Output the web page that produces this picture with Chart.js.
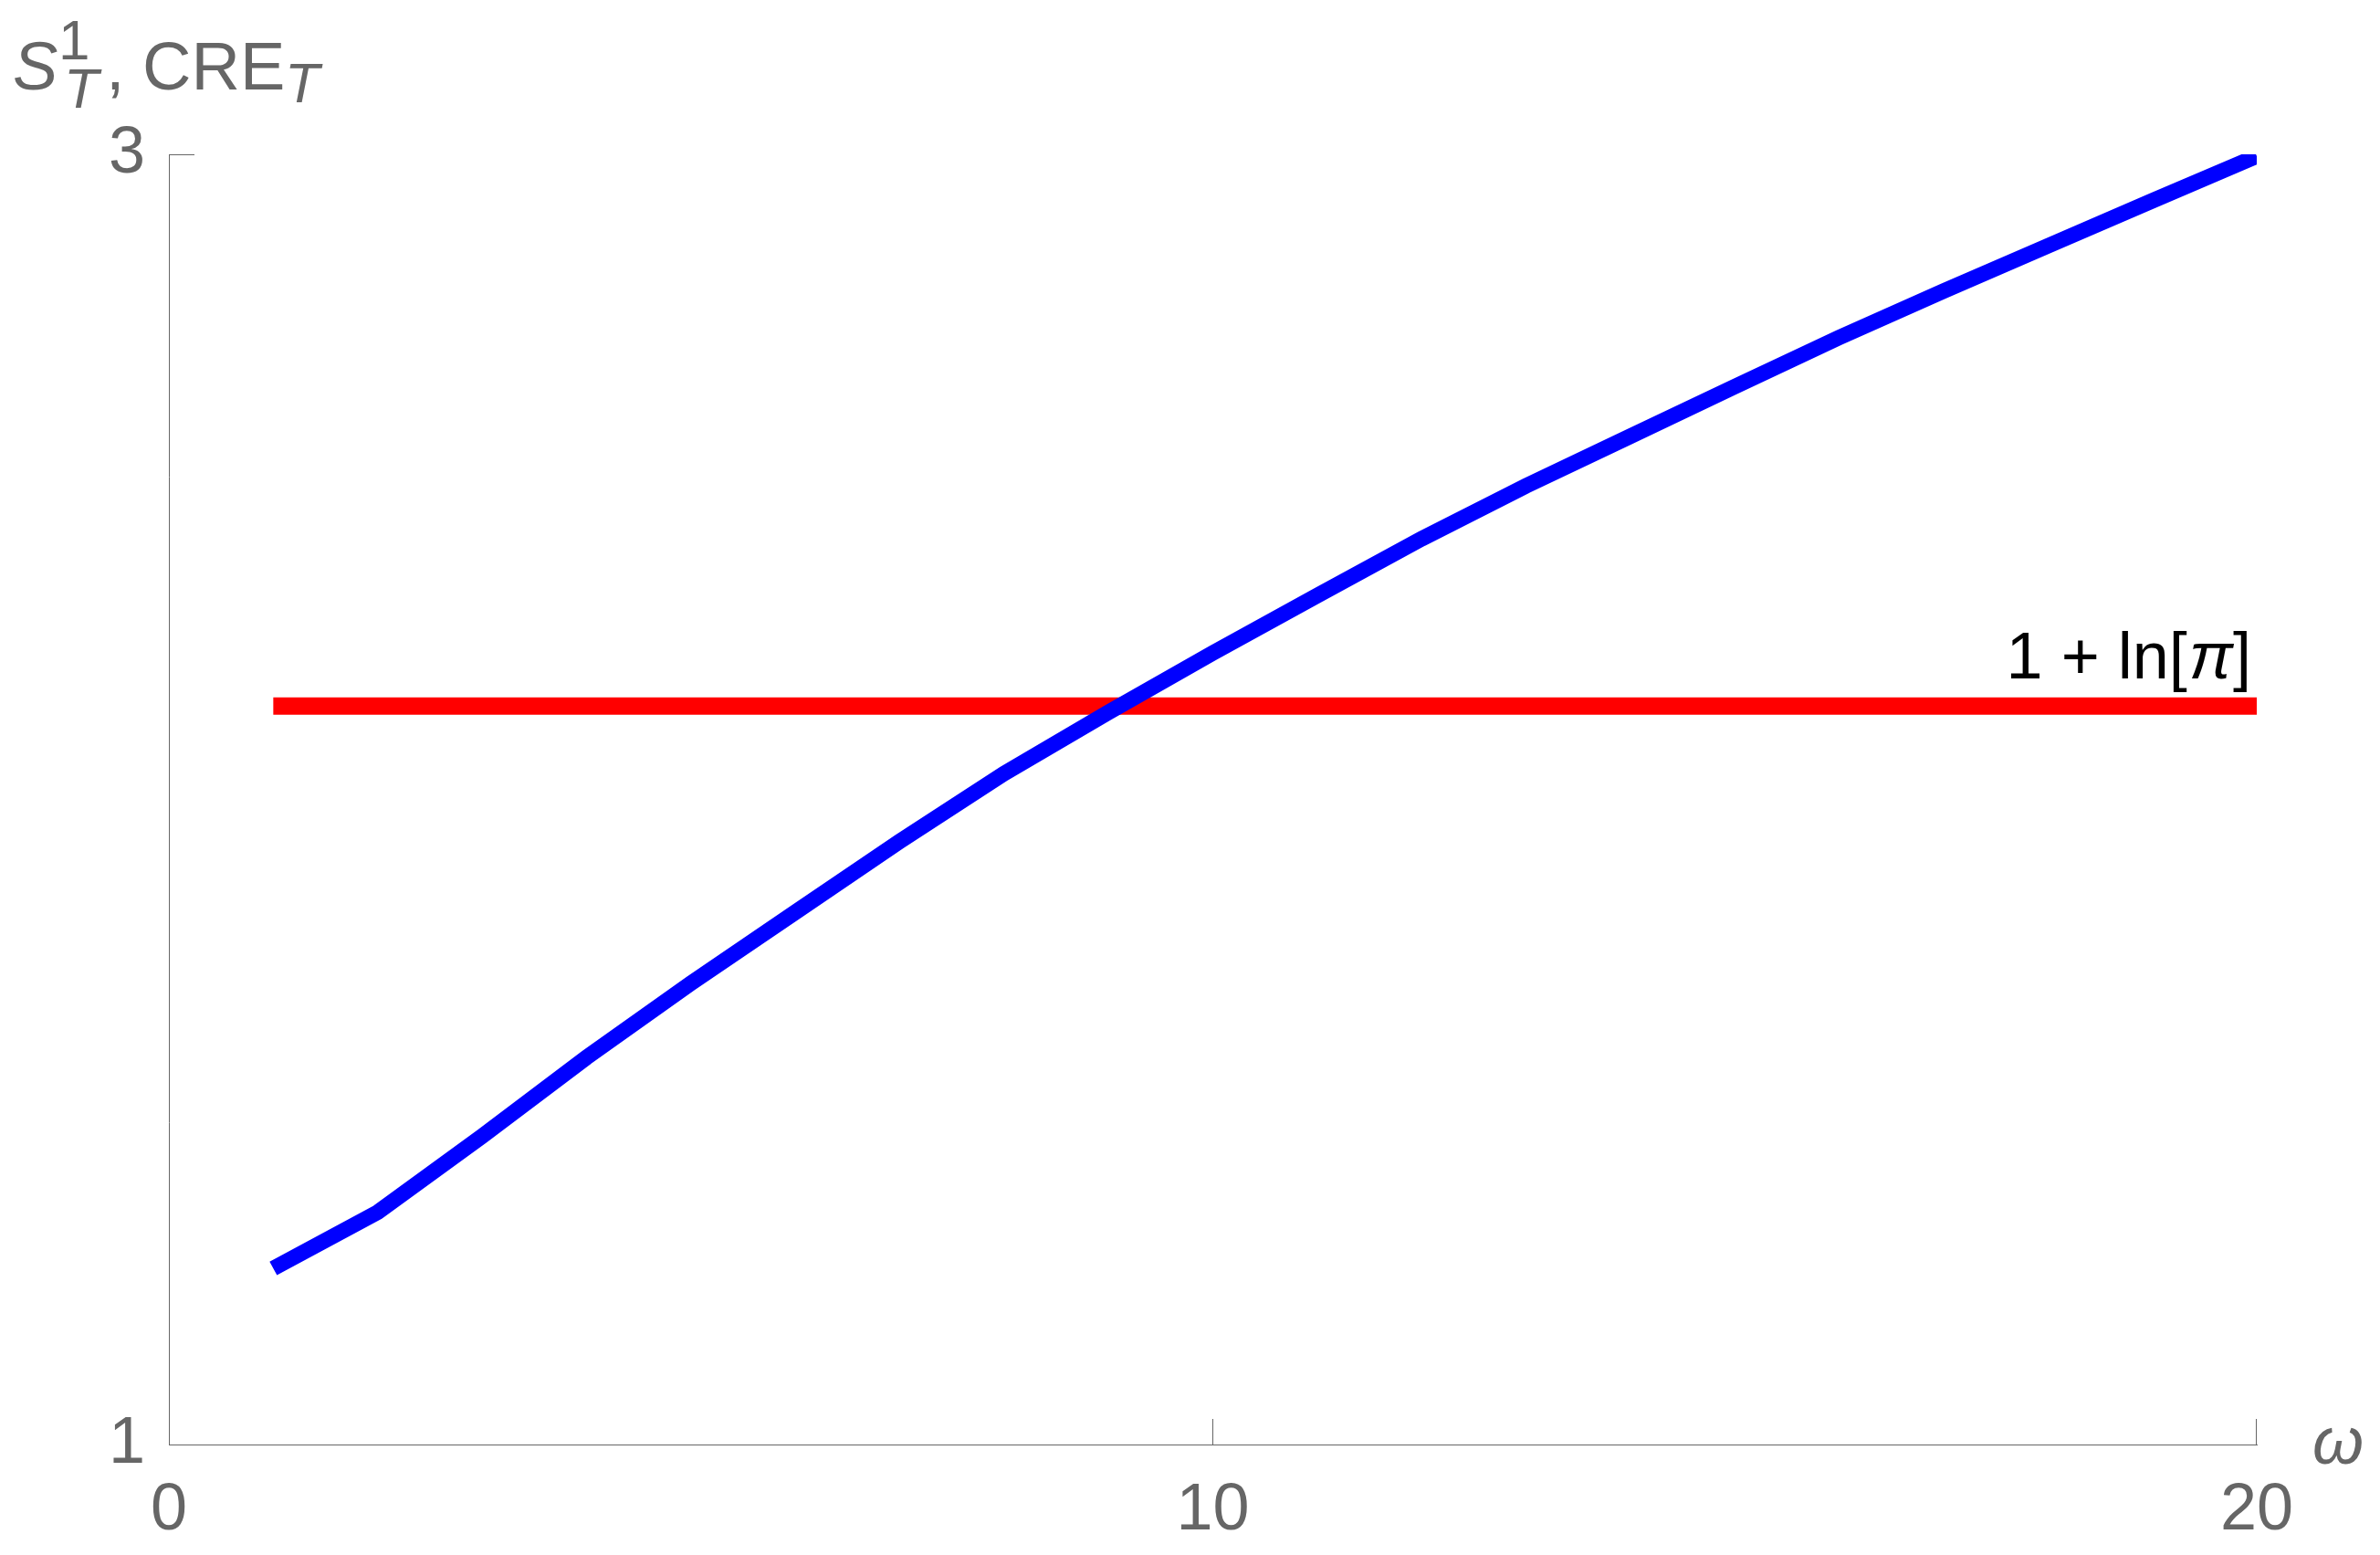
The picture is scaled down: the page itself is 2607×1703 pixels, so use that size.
<!DOCTYPE html>
<html>
<head>
<meta charset="utf-8">
<script src="https://cdn.jsdelivr.net/npm/chart.js@4.4.1/dist/chart.umd.min.js"></script>
<style>
  html, body { margin: 0; padding: 0; background: #fff; }
  #wrap { width: 2607px; height: 1703px; position: relative; }
</style>
</head>
<body>
<div id="wrap"><canvas id="chart"></canvas></div>
<script>
// omega values and the CRE_T curve
const omega = [1, 2, 3, 4, 5, 6, 7, 8, 9, 10, 11, 12, 13, 14, 15, 16, 17, 18, 19, 20];
const creT = [1.273, 1.36, 1.478, 1.600, 1.715, 1.825, 1.935, 2.040, 2.135, 2.227, 2.316, 2.404, 2.486, 2.563, 2.640, 2.716, 2.788, 2.858, 2.928, 2.997];

// the 1 + ln[pi] level
const lnPiX = [1, 20];
const lnPiY = [2.1447, 2.1447];

const xTicks = [0, 10, 20];
const yTicks = [1, 3];

const FONT = "'Liberation Sans', Arial, sans-serif";
const GRAY = "#666666";

const toPoints = (xs, ys) => xs.map((x, i) => ({ x: x, y: ys[i] }));

const decorations = {
  id: "decorations",
  afterDraw(chart) {
    const ctx = chart.ctx;
    const xs = chart.scales.x;
    const ys = chart.scales.y;
    const area = chart.chartArea;

    // inward tick marks, Mathematica style
    ctx.save();
    ctx.strokeStyle = GRAY;
    ctx.lineWidth = 1;
    ctx.beginPath();
    xTicks.forEach(v => {
      if (v === xs.min) return;
      const px = Math.round(xs.getPixelForValue(v)) - 0.5;
      ctx.moveTo(px, area.bottom);
      ctx.lineTo(px, area.bottom - 28);
    });
    yTicks.forEach(v => {
      if (v === ys.min) return;
      const py = Math.round(ys.getPixelForValue(v)) + 0.5;
      ctx.moveTo(area.left, py);
      ctx.lineTo(area.left + 28, py);
    });
    ctx.stroke();

    ctx.fillStyle = GRAY;
    ctx.textAlign = "left";
    ctx.textBaseline = "alphabetic";

    // y axis title: S_T^1, CRE_T
    ctx.font = "italic 74px " + FONT;
    ctx.fillText("S", 14, 98);
    ctx.font = "62px " + FONT;
    ctx.fillText("1", 64, 65);
    ctx.font = "italic 62px " + FONT;
    ctx.fillText("T", 70, 118);
    ctx.font = "74px " + FONT;
    ctx.fillText(",", 116, 98);
    ctx.fillText("CRE", 156, 98);
    ctx.font = "italic 62px " + FONT;
    ctx.fillText("T", 312, 112);

    // x axis title
    ctx.font = "italic 72px " + FONT;
    ctx.fillText("\u03C9", area.right + 61, area.bottom + 21);

    // label over the red line
    const baseY = ys.getPixelForValue(lnPiY[0]) - 30;
    let right = xs.getPixelForValue(lnPiX[1]) - 6;
    ctx.fillStyle = "#000";
    ctx.textAlign = "right";
    ctx.font = "72px " + FONT;
    ctx.fillText("]", right, baseY);
    right -= ctx.measureText("]").width;
    ctx.font = "italic 72px " + FONT;
    ctx.fillText("\u03C0", right, baseY);
    right -= ctx.measureText("\u03C0").width + 2;
    ctx.font = "72px " + FONT;
    ctx.fillText("1 + ln[", right, baseY);
    ctx.restore();
  }
};

window.addEventListener("DOMContentLoaded", () => {
  const ctx = document.getElementById("chart");
  new Chart(ctx, {
    type: "scatter",
    data: {
      datasets: [{
        label: "1 + ln[\u03C0]",
        data: toPoints(lnPiX, lnPiY),
        showLine: true,
        borderColor: "#ff0000",
        borderWidth: 19,
        pointRadius: 0,
        clip: 0,
        order: 2
      }, {
        label: "CRE_T",
        data: toPoints(omega, creT),
        showLine: true,
        borderColor: "#0000ff",
        borderWidth: 17,
        pointRadius: 0,
        tension: 0,
        clip: 0,
        order: 1
      }]
    },
    options: {
      responsive: true,
      maintainAspectRatio: false,
      devicePixelRatio: 1,
      animation: false,
      layout: { padding: { left: 0, top: 169, right: 135, bottom: 0 } },
      plugins: {
        legend: { display: false },
        tooltip: { enabled: false }
      },
      scales: {
        x: {
          type: "linear",
          min: 0,
          max: 20,
          afterBuildTicks: s => { s.ticks = xTicks.map(v => ({ value: v })); },
          afterFit: s => { s.height = 121; },
          grid: { display: false, drawTicks: false },
          border: { display: true, color: GRAY, width: 1 },
          ticks: {
            color: GRAY,
            font: { family: FONT, size: 72 },
            padding: 30,
            maxRotation: 0,
            autoSkip: false
          }
        },
        y: {
          type: "linear",
          min: 1,
          max: 3,
          afterBuildTicks: s => { s.ticks = yTicks.map(v => ({ value: v })); },
          afterFit: s => { s.width = 185; },
          grid: { display: false, drawTicks: false },
          border: { display: true, color: GRAY, width: 1 },
          ticks: {
            color: GRAY,
            font: { family: FONT, size: 72 },
            padding: 26,
            autoSkip: false
          }
        }
      }
    },
    plugins: [decorations]
  });
});
</script>
</body>
</html>
